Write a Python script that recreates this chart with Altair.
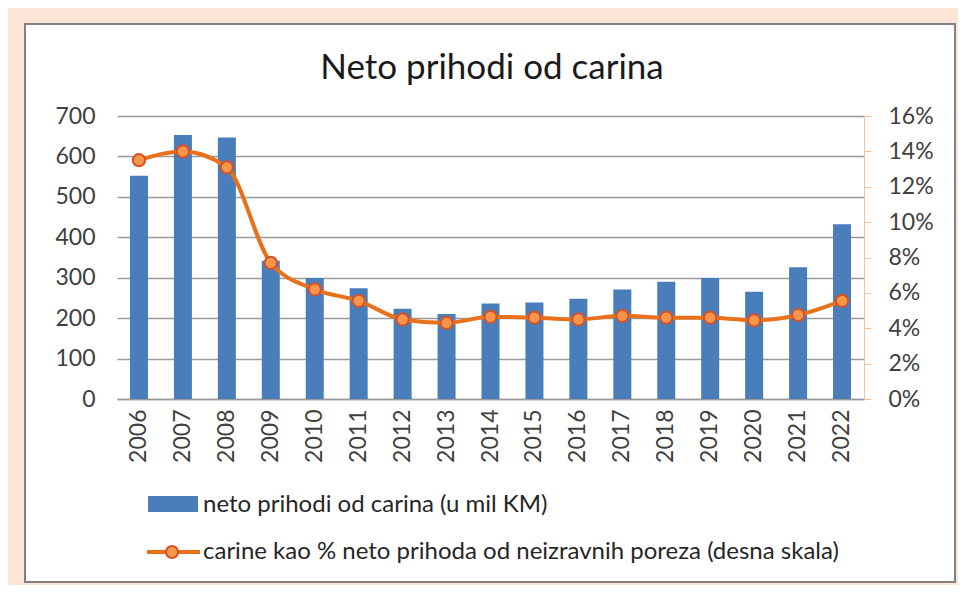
import altair as alt
import pandas as pd

# ---- data ----
years = ["2006", "2007", "2008", "2009", "2010", "2011", "2012", "2013", "2014",
         "2015", "2016", "2017", "2018", "2019", "2020", "2021", "2022"]
customs = [552, 653, 647, 342, 299, 274, 223, 210, 236, 239, 248, 271, 290, 299, 265, 326, 432]
share_pct = [13.5, 14.0, 13.1, 7.7, 6.2, 5.55, 4.5, 4.3, 4.65, 4.6, 4.5, 4.7, 4.6, 4.6, 4.45, 4.75, 5.55]
pct_ticks = [0, 2, 4, 6, 8, 10, 12, 14, 16]

chart_title = "Neto prihodi od carina"
series_names = ["neto prihodi od carina (u mil KM)",
                "carine kao % neto prihoda od neizravnih poreza (desna skala)"]

df = pd.DataFrame({"year": years, "customs": customs, "share": share_pct})

BLUE = "#4a7ebb"
ORANGE = "#e8711c"
MFILL = "#f7964a"
MSTROKE = "#d4522a"
PEACH = "#fce5d7"
FONT = "Lato"
TXT = "#404040"

one = pd.DataFrame({"k": [0]})


def strip(x1, x2, y1, y2):
    return alt.Chart(one).mark_rect(fill=PEACH, strokeWidth=0).encode(
        x=alt.value(x1), x2=alt.value(x2), y=alt.value(y1), y2=alt.value(y2)
    )


frame_parts = [
    strip(-109, 841, -108, -92),
    strip(-109, 841, 466, 469),
    strip(-109, -92, -108, 469),
    strip(838, 841, -108, 469),
]
border = alt.Chart(one).mark_rect(fillOpacity=0, stroke="#808080", strokeWidth=2).encode(
    x=alt.value(-92), x2=alt.value(838), y=alt.value(-92), y2=alt.value(466)
)

xenc = alt.X("year:O", title=None,
             scale=alt.Scale(paddingInner=0.59, paddingOuter=0.295),
             axis=alt.Axis(labelAngle=270, labelFontSize=23, labelFont=FONT,
                           labelColor=TXT, labelPadding=10, ticks=False,
                           labelOverlap=False,
                           domainColor="#9a9a9a", domainWidth=1.5))

bars = alt.Chart(df).mark_bar(color=BLUE).encode(
    x=xenc,
    y=alt.Y("customs:Q", title=None,
            scale=alt.Scale(domain=[0, 700], nice=False),
            axis=alt.Axis(values=[0, 100, 200, 300, 400, 500, 600, 700],
                          labelFontSize=23, labelFont=FONT, labelColor=TXT,
                          labelPadding=22, ticks=False, domain=False,
                          labelOverlap=False,
                          grid=True, gridColor="#9a9a9a", gridWidth=1.5))
)

yshare = alt.Y("share:Q", title=None,
               scale=alt.Scale(domain=[0, 16], nice=False),
               axis=alt.Axis(orient="right", values=pct_ticks,
                             labelExpr="datum.value + '%'",
                             labelFontSize=23, labelFont=FONT, labelColor=TXT,
                             labelPadding=17, tickSize=7, tickColor="#f6c09a",
                             labelOverlap=False, labelBound=False, labelFlush=False,
                             domainColor="#f6c09a", domainWidth=1, grid=False))

line = alt.Chart(df).mark_line(color=ORANGE, strokeWidth=4, interpolate="monotone").encode(
    x=alt.X("year:O"), y=yshare
)
points = alt.Chart(df).mark_point(shape="circle", filled=True, size=150, fill=MFILL,
                                  stroke=MSTROKE, strokeWidth=2, opacity=1).encode(
    x=alt.X("year:O"), y=yshare
)
linelayer = alt.layer(line, points)

title_mark = alt.Chart(pd.DataFrame({"t": [chart_title]})).mark_text(
    font=FONT, fontSize=35, color="#1a1a1a", align="center", baseline="alphabetic"
).encode(text="t:N", x=alt.value(375), y=alt.value(-37))

leg_rect = alt.Chart(one).mark_rect(fill=BLUE).encode(
    x=alt.value(31), x2=alt.value(81), y=alt.value(380), y2=alt.value(396)
)
leg_text1 = alt.Chart(pd.DataFrame({"t": [series_names[0]]})).mark_text(
    font=FONT, fontSize=24, color="#262626", align="left", baseline="middle"
).encode(text="t:N", x=alt.value(86), y=alt.value(389))
leg_line = alt.Chart(one).mark_rule(color=ORANGE, strokeWidth=4).encode(
    x=alt.value(30), x2=alt.value(83), y=alt.value(436)
)
leg_pt = alt.Chart(one).mark_point(shape="circle", filled=True, size=150, fill=MFILL,
                                   stroke=MSTROKE, strokeWidth=2, opacity=1).encode(
    x=alt.value(55), y=alt.value(436)
)
leg_text2 = alt.Chart(pd.DataFrame({"t": [series_names[1]]})).mark_text(
    font=FONT, fontSize=24, color="#262626", align="left", baseline="middle"
).encode(text="t:N", x=alt.value(86), y=alt.value(436))

chart = alt.layer(
    bars, linelayer, *frame_parts, border, title_mark,
    leg_rect, leg_text1, leg_line, leg_pt, leg_text2
).resolve_scale(y="independent").properties(
    width=747, height=283,
    autosize=alt.AutoSizeParams(type="none"),
    padding={"left": 109, "top": 108, "right": 94, "bottom": 186},
    background="white",
).configure_view(stroke=None)

chart.save("out.html", embed_options={"renderer": "svg", "actions": False})
